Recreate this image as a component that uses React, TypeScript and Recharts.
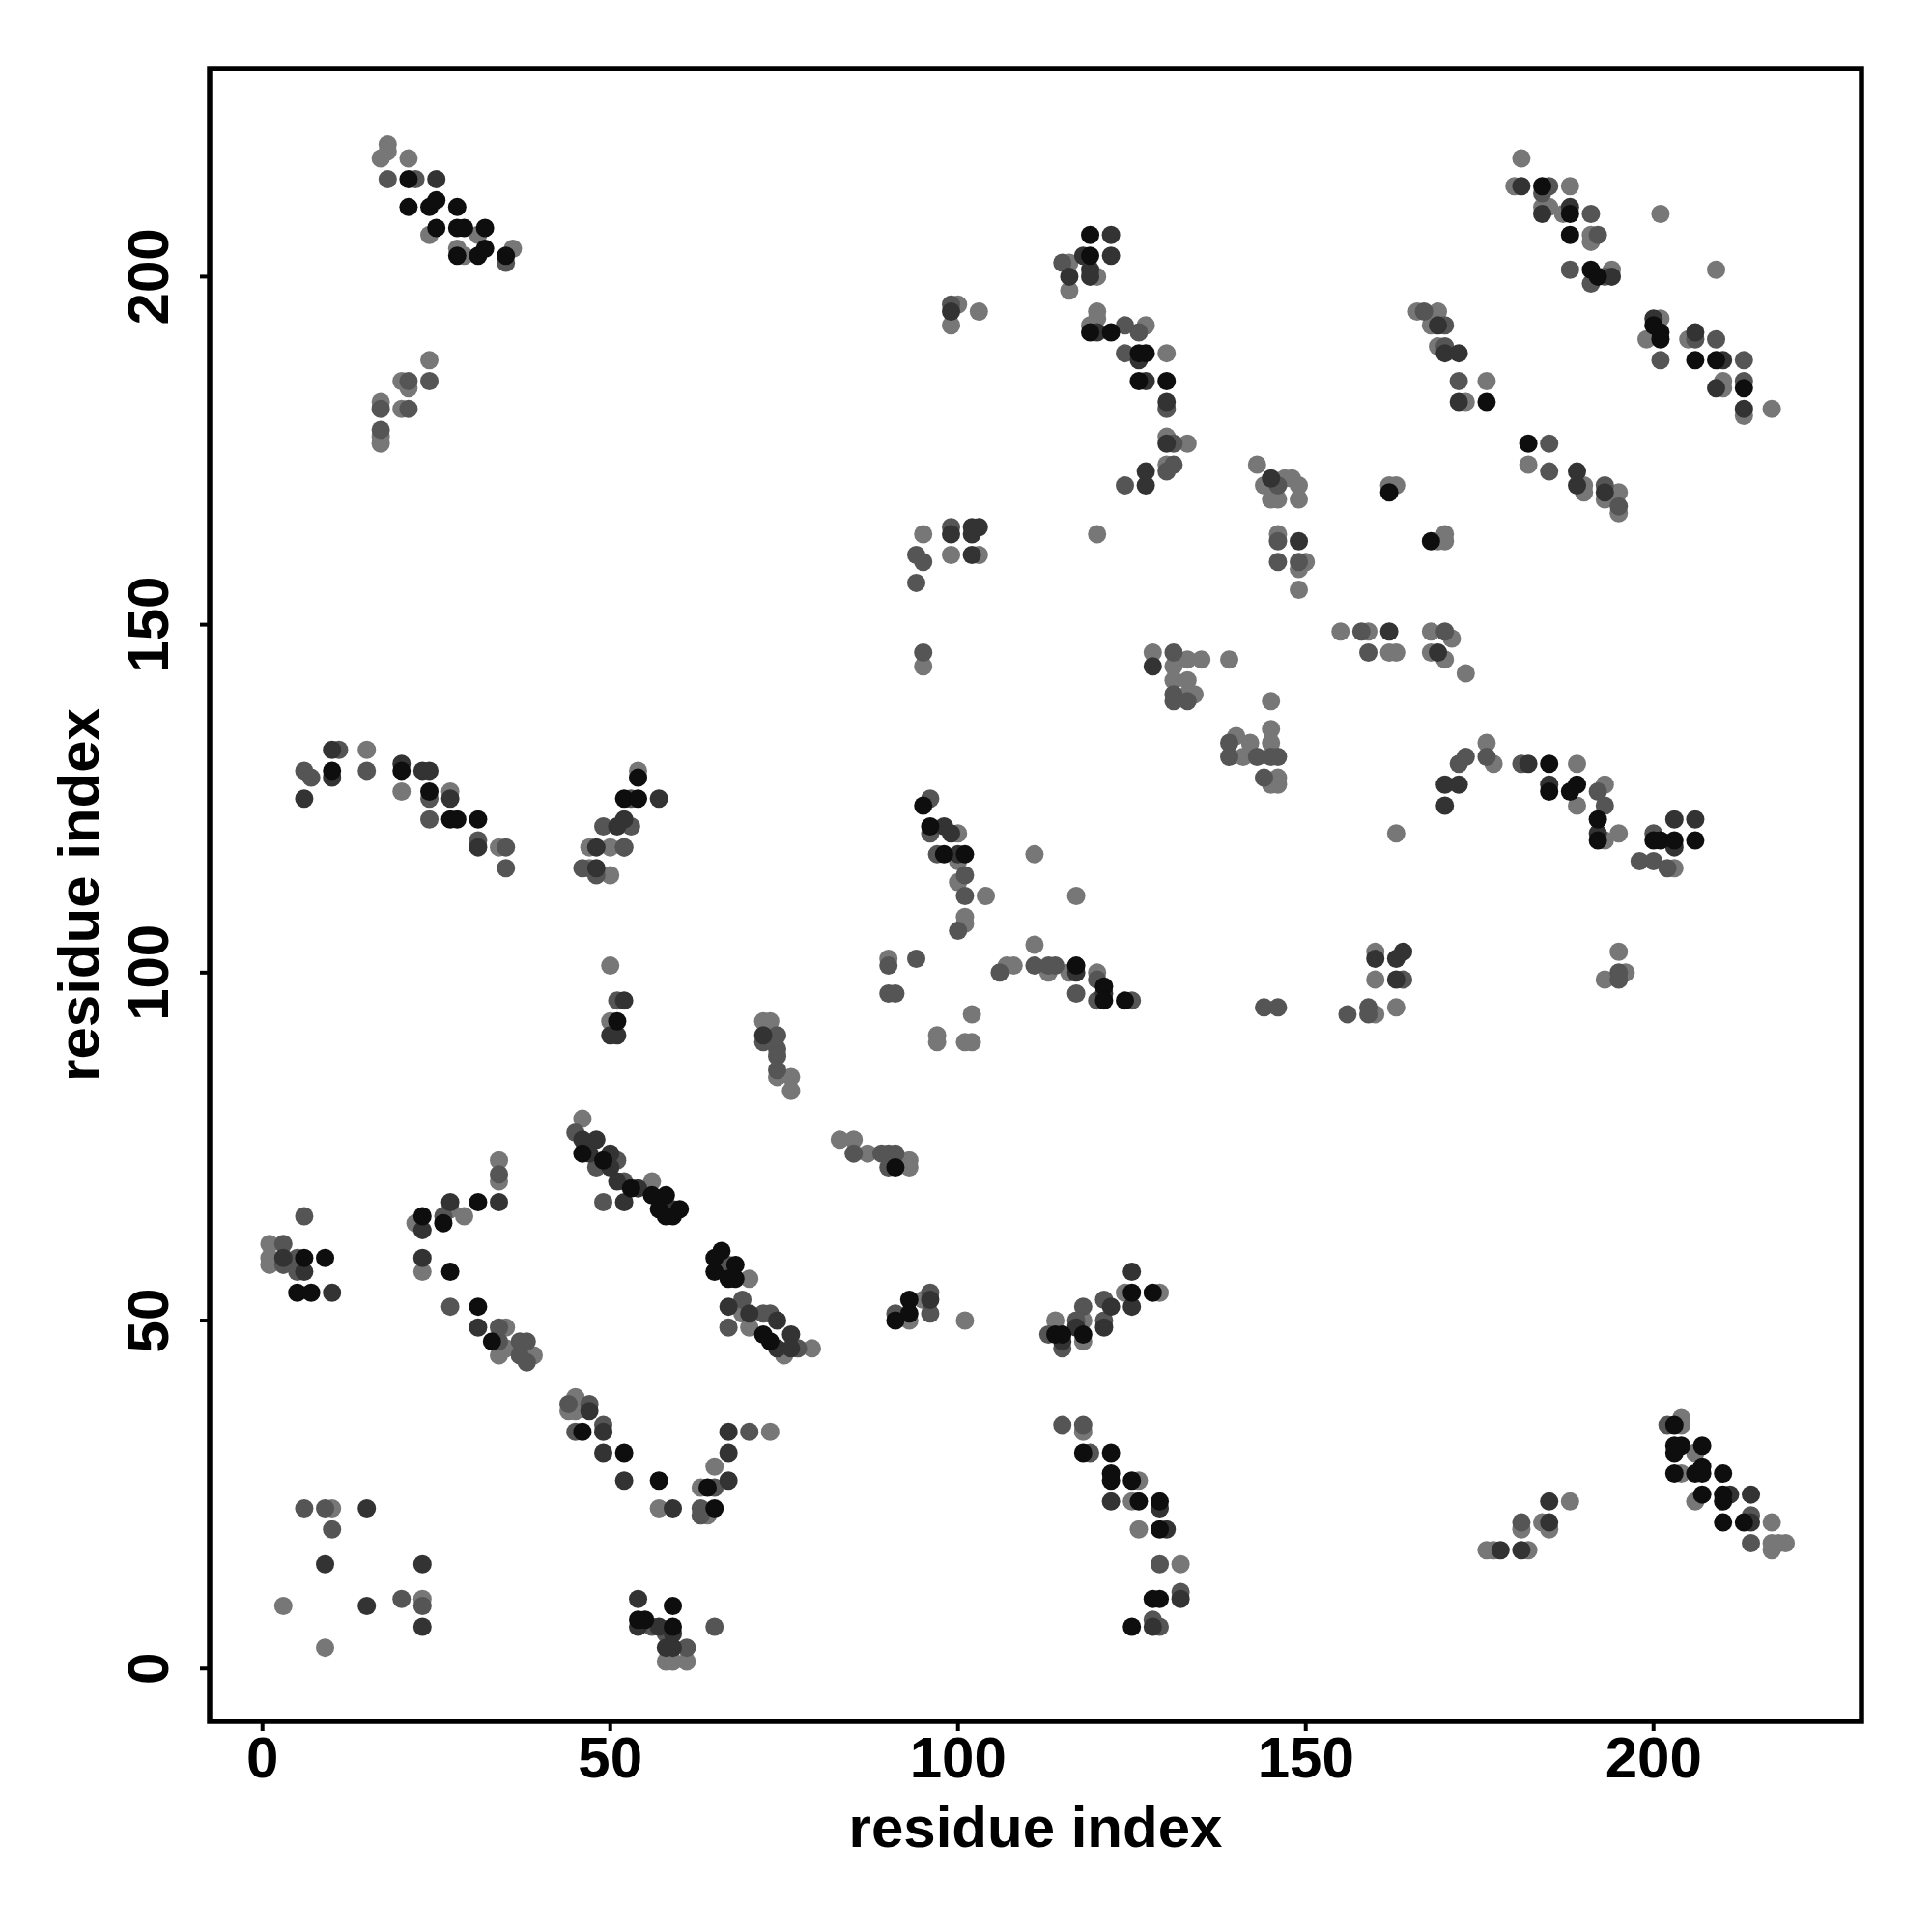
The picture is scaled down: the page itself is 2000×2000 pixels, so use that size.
import React from 'react';
import { ScatterChart, Scatter, XAxis, YAxis, ReferenceArea, Label } from 'recharts';

const xTicks = [0, 50, 100, 150, 200];
const yTicks = [0, 50, 100, 150, 200];
const axisDomain: [number, number] = [-7.6, 229.9];
const xTitle = 'residue index';
const yTitle = 'residue index';

// contacts grouped by shade (lightest drawn first)
const lightContacts: [number, number][] = [
  [18,219],[17,217],[18,218],[21,217],[24,206],[31,206],[28,204],[29,203],[36,204],[24,188],[20,185],[21,184],[17,182],[20,181],[17,177],[17,176],
  [100,196],[103,195],[99,193],[95,163],[99,160],[103,160],
  [116,202],[120,200],[116,198],[120,195],[120,194],[119,193],[127,193],[130,189],[130,177],[133,176],[130,173],[120,163],[143,173],[144,170],[147,171],[148,171],[149,170],[145,168],[146,168],[149,168],[146,163],[150,159],[149,158],[149,155],[162,170],[163,170],[169,162],[170,163],[170,162],[166,195],[169,195],[168,193],[169,190],
  [181,217],[180,213],[188,213],[184,210],[185,210],[187,209],[191,206],[191,205],[201,209],[194,201],[209,201],[201,194],[199,191],[205,191],[210,184],[210,185],[213,180],[217,181],[176,185],[173,182],[182,173],[190,170],[190,169],[193,168],[195,169],[195,166],
  [15,132],[20,126],[27,126],[34,118],[47,118],[50,118],[47,115],[50,114],[50,101],[50,93],[46,79],[34,73],
  [95,144],[54,129],[100,120],[100,116],[100,113],[104,111],[101,108],[101,107],[111,117],[90,102],[102,94],[97,91],[97,90],[101,90],[102,90],[111,104],[107,101],[108,101],[72,93],[73,93],[74,85],[76,85],[76,83],[83,76],[85,76],[87,74],[93,73],[93,72],
  [155,149],[159,149],[162,146],[163,146],[168,149],[168,146],[170,145],[171,148],[128,146],[131,144],[133,145],[135,145],[139,145],[131,142],[133,142],[133,140],[134,140],[145,139],[140,134],[142,133],[141,131],[145,135],[145,133],[146,128],[145,127],[146,127],[163,120],[117,111],[113,100],[116,100],[120,100],[160,103],[160,99],[160,94],[163,95],
  [173,143],[176,133],[177,130],[189,130],[189,124],[193,127],[193,119],[195,120],[203,115],[195,103],[193,99],[196,100],
  [1,61],[1,59],[1,58],[22,64],[27,66],[29,65],[34,70],[23,57],[35,49],[34,45],[35,46],[39,45],[45,39],[44,37],[45,37],[10,23],[3,9],[23,10],[9,3],
  [56,70],[70,56],[69,51],[70,49],[75,45],[79,46],[95,53],[93,50],[101,50],[73,34],[65,29],[63,26],[57,23],[64,22],[58,1],[59,1],[61,1],
  [124,54],[129,54],[118,50],[118,47],[114,50],[118,34],[126,27],[125,24],[126,20],[132,15],
  [176,17],[177,17],[182,17],[181,20],[184,21],[185,20],[188,24],[204,36],[204,35],[206,31],[204,28],[206,24],[217,21],[217,18],[217,17],[218,18],[219,18],
];

const midContacts: [number, number][] = [
  [18,214],[22,214],[35,202],[24,185],[21,185],[17,181],[21,181],[17,178],
  [99,196],[99,164],[94,160],[95,159],[94,156],
  [115,202],[124,193],[126,192],[124,189],[130,181],[131,176],[131,173],[130,172],[124,170],[146,170],[146,162],[146,159],[149,159],[167,195],[170,193],[170,190],
  [185,213],[184,212],[191,209],[192,206],[188,201],[193,200],[191,199],[201,188],[206,191],[209,191],[213,188],[213,185],[172,185],[185,176],[185,172],[193,170],[195,167],
  [11,132],[6,129],[7,128],[15,129],[24,125],[24,122],[31,119],[35,118],[35,115],[49,121],[52,118],[46,115],[48,114],[51,96],[45,77],[51,73],[34,71],[48,72],[52,70],
  [95,146],[53,125],[53,121],[52,118],[96,125],[96,120],[97,117],[101,114],[101,111],[100,106],[90,101],[94,102],[90,97],[91,97],[111,101],[106,100],[72,90],[74,91],[74,89],[74,88],[74,86],[85,74],[89,74],[90,74],[91,74],[90,72],
  [158,149],[159,146],[170,149],[131,146],[131,140],[131,139],[133,139],[139,133],[139,131],[143,131],[145,131],[146,131],[144,128],[113,101],[114,101],[120,99],[117,97],[120,96],[125,96],[144,95],[146,95],[164,99],[156,94],[159,95],[159,94],
  [173,131],[172,130],[176,131],[181,130],[192,126],[193,124],[200,120],[198,116],[200,116],[202,115],[195,100],[195,99],
  [6,65],[3,61],[3,58],[5,59],[5,57],[26,65],[27,52],[34,49],[34,47],[37,47],[38,47],[37,45],[38,44],[44,38],[47,38],[45,34],[49,35],[49,67],[6,23],[9,23],[10,20],[20,10],[23,9],
  [67,58],[69,53],[67,49],[72,51],[73,51],[77,46],[96,54],[96,51],[91,51],[70,34],[65,26],[63,23],[63,22],[56,6],[58,5],[61,3],[65,6],
  [121,53],[121,50],[118,52],[117,50],[113,48],[115,46],[115,35],[118,35],[119,31],[129,15],[132,11],[128,7],[129,6],
  [181,21],[202,35],[214,22],[214,18],
];

const darkContacts: [number, number][] = [
  [25,214],
  [99,195],[99,163],[102,164],[103,164],[102,163],[102,160],
  [122,206],[118,203],[122,203],[119,201],[116,200],[119,200],[120,192],[126,188],[127,185],[130,182],[130,176],[127,172],[127,170],[145,171],[149,162],[169,193],[170,189],
  [181,213],[184,209],[188,210],[194,200],[200,194],[206,192],[210,188],[209,184],[213,181],[172,189],[172,182],[189,172],[189,170],[193,169],
  [10,132],[10,128],[6,125],[20,130],[23,129],[24,129],[27,125],[31,118],[51,121],[52,122],[48,118],[48,115],[52,96],[50,91],[51,91],[46,76],[48,76],[50,74],[47,74],[50,72],[51,70],[54,69],
  [57,125],[98,121],[99,120],[100,117],[72,91],
  [162,149],[169,146],[128,144],[170,127],[172,127],[170,124],[117,100],[121,97],[160,102],[164,103],[163,102],[163,99],
  [182,130],[185,127],[192,120],[203,122],[206,122],[203,118],
  [3,59],[6,57],[10,54],[23,63],[27,67],[34,67],[23,59],[31,49],[47,37],[49,34],[49,31],[52,27],[52,67],[15,23],[9,15],[23,15],[15,9],[23,6],
  [59,66],[67,52],[70,51],[74,50],[74,46],[76,48],[76,46],[96,53],[67,34],[67,31],[67,27],[59,23],[54,10],[54,6],[57,6],[59,5],[58,3],[59,3],
  [125,57],[125,52],[122,52],[121,49],[117,49],[115,47],[122,24],[129,23],[130,20],[132,10],[128,6],
  [178,17],[181,17],[185,21],[185,24],[211,25],[214,25],[214,21],
];

const blackContacts: [number, number][] = [
  [21,214],[21,210],[24,210],[25,211],[28,210],[25,207],[28,207],[29,207],[32,207],[28,203],[31,203],[32,204],[35,203],
  [119,206],[119,203],[119,192],[122,192],[126,189],[127,189],[126,185],[130,185],[162,169],[168,162],
  [184,213],[188,209],[188,206],[191,201],[192,200],[200,193],[201,192],[201,191],[206,188],[209,188],[213,184],[176,182],[182,176],
  [10,129],[24,126],[27,122],[28,122],[31,122],[52,125],[51,93],[46,74],[20,129],[49,73],[53,69],
  [54,128],[54,125],[95,124],[96,121],[98,117],[101,117],[91,72],
  [117,101],[121,98],[121,96],[124,96],
  [185,130],[185,126],[188,126],[189,127],[192,122],[192,119],[200,119],[201,119],[203,119],[206,119],
  [6,59],[9,59],[5,54],[7,54],[23,65],[26,64],[27,57],[31,67],[31,52],[33,47],[46,34],[52,31],
  [56,68],[58,68],[57,66],[58,65],[60,66],[59,65],[66,60],[65,59],[65,57],[68,58],[67,56],[68,56],[72,48],[73,47],[93,53],[91,50],[93,51],[64,26],[57,27],[65,23],[59,9],[54,7],[55,7],[59,6],
  [125,54],[128,54],[118,48],[114,48],[115,48],[118,31],[122,31],[122,28],[122,27],[125,27],[126,24],[129,24],[129,20],[128,10],[129,10],[125,6],
  [203,35],[203,32],[203,31],[204,32],[207,32],[203,28],[206,28],[207,29],[207,28],[210,28],[207,25],[210,25],[210,24],[210,21],[213,21],
];

const seriesShades = [
  { name: 'light', data: lightContacts, color: '#777777' },
  { name: 'mid', data: midContacts, color: '#555555' },
  { name: 'dark', data: darkContacts, color: '#333333' },
  { name: 'black', data: blackContacts, color: '#0e0e0e' },
];

const FONT = "'Liberation Sans', Arial, Helvetica, sans-serif";

const toPoints = (arr: [number, number][]) => arr.map(([x, y]) => ({ x, y }));

const Dot = (props: any) => (
  <circle cx={props.cx} cy={props.cy} r={9.5} fill={props.fill} stroke="none" />
);

const XTick = (props: any) => {
  const { x, y, payload } = props;
  return (
    <text x={x} y={y + 46} textAnchor="middle" fontFamily={FONT} fontWeight="bold" fontSize={60} fill="#000">
      {payload.value}
    </text>
  );
};

const YTick = (props: any) => {
  const { x, y, payload } = props;
  return (
    <text
      transform={`translate(${x - 31}, ${y}) rotate(-90)`}
      textAnchor="middle"
      fontFamily={FONT}
      fontWeight="bold"
      fontSize={60}
      fill="#000"
    >
      {payload.value}
    </text>
  );
};

const XTitle = (p: any) => {
  const vb = p.viewBox ?? { x: 217, y: 1782, width: 1710, height: 218 };
  return (
    <text x={vb.x + vb.width / 2} y={vb.y + 130} textAnchor="middle" fontFamily={FONT} fontWeight="bold" fontSize={60} fill="#000">
      {xTitle}
    </text>
  );
};

const YTitle = (p: any) => {
  const vb = p.viewBox ?? { x: 0, y: 71, width: 217, height: 1711 };
  return (
    <text
      transform={`translate(${vb.x + 102}, ${vb.y + vb.height / 2}) rotate(-90)`}
      textAnchor="middle"
      fontFamily={FONT}
      fontWeight="bold"
      fontSize={60}
      fill="#000"
    >
      {yTitle}
    </text>
  );
};

export default function App() {
  return (
    <div style={{ position: 'absolute', left: 0, top: 0, width: 2000, height: 2000, background: '#fff' }}>
      <ScatterChart width={2000} height={2000} margin={{ top: 71, right: 73, bottom: 0, left: 0 }}>
        <XAxis
          type="number"
          dataKey="x"
          domain={axisDomain}
          allowDataOverflow
          ticks={xTicks}
          height={218}
          axisLine={false}
          tickSize={10}
          tickLine={{ stroke: '#000', strokeWidth: 4 }}
          tick={<XTick />}
          interval={0}
        >
          <Label content={<XTitle />} />
        </XAxis>
        <YAxis
          type="number"
          dataKey="y"
          domain={axisDomain}
          allowDataOverflow
          ticks={yTicks}
          width={217}
          axisLine={false}
          tickSize={10}
          tickLine={{ stroke: '#000', strokeWidth: 4 }}
          tick={<YTick />}
          interval={0}
        >
          <Label content={<YTitle />} />
        </YAxis>
        {seriesShades.map((s) => (
          <Scatter
            key={s.name}
            name={s.name}
            data={toPoints(s.data)}
            fill={s.color}
            shape={<Dot />}
            isAnimationActive={false}
          />
        ))}
        <ReferenceArea
          x1={axisDomain[0]}
          x2={axisDomain[1]}
          y1={axisDomain[0]}
          y2={axisDomain[1]}
          fill="none"
          fillOpacity={0}
          stroke="#000"
          strokeWidth={5.5}
          ifOverflow="visible"
        />
      </ScatterChart>
    </div>
  );
}
